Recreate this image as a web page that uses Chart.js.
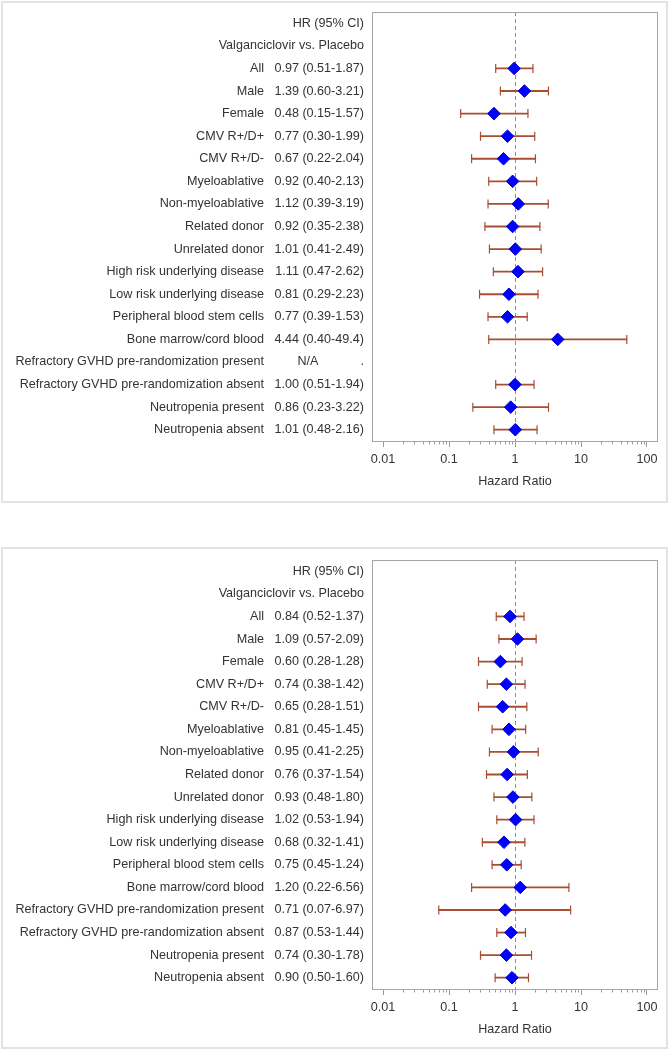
<!DOCTYPE html>
<html><head><meta charset="utf-8">
<script src="https://cdn.jsdelivr.net/npm/chart.js@4"></script>
<style>
html,body{margin:0;padding:0;background:#fff;width:670px;height:1049px;overflow:hidden}
.panel{position:absolute;left:1px;width:667px;height:502px;box-sizing:border-box;border:2px solid #e3e3e3}
canvas{position:absolute;left:0}
</style></head><body>
<div class="panel" style="top:1px"></div>
<div class="panel" style="top:547px"></div>
<canvas id="c1" width="670" height="501" style="top:0"></canvas>
<canvas id="c2" width="670" height="501" style="top:548px"></canvas>
<script>
// ---------- data ----------
const categories = ['', '', 'All', 'Male', 'Female', 'CMV R+/D+', 'CMV R+/D-', 'Myeloablative',
  'Non-myeloablative', 'Related donor', 'Unrelated donor', 'High risk underlying disease',
  'Low risk underlying disease', 'Peripheral blood stem cells', 'Bone marrow/cord blood',
  'Refractory GVHD pre-randomization present', 'Refractory GVHD pre-randomization absent',
  'Neutropenia present', 'Neutropenia absent'];

const hrLabels1 = ['HR (95% CI)', 'Valganciclovir vs. Placebo', '0.97 (0.51-1.87)', '1.39 (0.60-3.21)',
  '0.48 (0.15-1.57)', '0.77 (0.30-1.99)', '0.67 (0.22-2.04)', '0.92 (0.40-2.13)', '1.12 (0.39-3.19)',
  '0.92 (0.35-2.38)', '1.01 (0.41-2.49)', '1.11 (0.47-2.62)', '0.81 (0.29-2.23)', '0.77 (0.39-1.53)',
  '4.44 (0.40-49.4)', 'N/A            .', '1.00 (0.51-1.94)', '0.86 (0.23-3.22)', '1.01 (0.48-2.16)'];
const hr1 = [null, null, 0.97, 1.39, 0.48, 0.77, 0.67, 0.92, 1.12, 0.92, 1.01, 1.11, 0.81, 0.77, 4.44, null, 1.00, 0.86, 1.01];
const lo1 = [null, null, 0.51, 0.60, 0.15, 0.30, 0.22, 0.40, 0.39, 0.35, 0.41, 0.47, 0.29, 0.39, 0.40, null, 0.51, 0.23, 0.48];
const hi1 = [null, null, 1.87, 3.21, 1.57, 1.99, 2.04, 2.13, 3.19, 2.38, 2.49, 2.62, 2.23, 1.53, 49.4, null, 1.94, 3.22, 2.16];

const hrLabels2 = ['HR (95% CI)', 'Valganciclovir vs. Placebo', '0.84 (0.52-1.37)', '1.09 (0.57-2.09)',
  '0.60 (0.28-1.28)', '0.74 (0.38-1.42)', '0.65 (0.28-1.51)', '0.81 (0.45-1.45)', '0.95 (0.41-2.25)',
  '0.76 (0.37-1.54)', '0.93 (0.48-1.80)', '1.02 (0.53-1.94)', '0.68 (0.32-1.41)', '0.75 (0.45-1.24)',
  '1.20 (0.22-6.56)', '0.71 (0.07-6.97)', '0.87 (0.53-1.44)', '0.74 (0.30-1.78)', '0.90 (0.50-1.60)'];
const hr2 = [null, null, 0.84, 1.09, 0.60, 0.74, 0.65, 0.81, 0.95, 0.76, 0.93, 1.02, 0.68, 0.75, 1.20, 0.71, 0.87, 0.74, 0.90];
const lo2 = [null, null, 0.52, 0.57, 0.28, 0.38, 0.28, 0.45, 0.41, 0.37, 0.48, 0.53, 0.32, 0.45, 0.22, 0.07, 0.53, 0.30, 0.50];
const hi2 = [null, null, 1.37, 2.09, 1.28, 1.42, 1.51, 1.45, 2.25, 1.54, 1.80, 1.94, 1.41, 1.24, 6.56, 6.97, 1.44, 1.78, 1.60];

const xTickValues = [0.01, 0.1, 1, 10, 100];
const xTickLabels = ['0.01', '0.1', '1', '10', '100'];
const xTitle = 'Hazard Ratio';
const refValue = 1;

// ---------- styling ----------
Chart.defaults.font.family = "'Liberation Sans', Arial, sans-serif";
Chart.defaults.font.size = 12.6;
Chart.defaults.color = '#333';

const CI_COLOR = '#a84e33';
const DIAMOND = '#0000ff';
const FRAME = '#a6a6a6';

const decor = {
  id: 'decor',
  beforeDatasetsDraw(chart) {
    const {ctx, chartArea: a, scales: {x}} = chart;
    ctx.save();
    ctx.lineWidth = 1;
    // reference line
    const px = Math.round(x.getPixelForValue(refValue)) + 0.5;
    ctx.strokeStyle = '#8f8f8f';
    ctx.setLineDash([4, 3]);
    ctx.beginPath(); ctx.moveTo(px, a.top); ctx.lineTo(px, a.bottom); ctx.stroke();
    ctx.setLineDash([]);
    // minor ticks
    ctx.strokeStyle = '#9a9a9a';
    ctx.beginPath();
    for (let k = 0; k < xTickValues.length - 1; k++) {
      for (let m = 2; m <= 9; m++) {
        const p = Math.round(x.getPixelForValue(xTickValues[k] * m)) + 0.5;
        ctx.moveTo(p, a.bottom); ctx.lineTo(p, a.bottom + 3.5);
      }
    }
    ctx.stroke();
    // frame
    ctx.strokeStyle = FRAME;
    ctx.strokeRect(Math.round(a.left) + 0.5, Math.round(a.top) + 0.5,
      Math.round(a.right) - Math.round(a.left) - 1, Math.round(a.bottom) - Math.round(a.top));
    ctx.restore();
  }
};

function noPad(s) { s.paddingTop = 0; s.paddingBottom = 0; }

function makeChart(id, hrLabels, hr, lo, hi) {
  const pts = [], caps = [];
  hr.forEach((v, i) => { if (v != null) pts.push({x: v, y: categories[i]}); });
  lo.forEach((v, i) => {
    if (v != null) { caps.push({x: v, y: categories[i]}); caps.push({x: hi[i], y: categories[i]}); }
  });
  const bars = lo.map((v, i) => v == null ? null : [v, hi[i]]);

  return new Chart(document.getElementById(id), {
    type: 'bar',
    data: {
      labels: categories,
      datasets: [
        {type: 'scatter', data: pts, pointStyle: 'rectRot', pointRadius: 6.3, pointHoverRadius: 6.3,
         backgroundColor: DIAMOND, borderColor: '#0000c8', borderWidth: 1},
        {type: 'scatter', data: caps, pointStyle: 'line', pointRotation: 90, pointRadius: 4.5,
         pointHoverRadius: 4.5, borderColor: CI_COLOR, borderWidth: 1.2},
        {type: 'bar', data: bars, backgroundColor: CI_COLOR, borderWidth: 0, barThickness: 1.15}
      ]
    },
    options: {
      indexAxis: 'y',
      responsive: false,
      animation: false,
      events: [],
      layout: {padding: {left: 0, right: 12, top: 12, bottom: 11.5}},
      plugins: {legend: {display: false}, tooltip: {enabled: false}},
      scales: {
        x: {
          type: 'logarithmic', min: 0.00681, max: 146.8, position: 'bottom',
          grid: {drawOnChartArea: false, drawTicks: true, tickLength: 6, color: '#9a9a9a'},
          border: {display: false},
          afterBuildTicks(s) { s.ticks = xTickValues.map(v => ({value: v})); },
          ticks: {autoSkip: false, maxRotation: 0, padding: 5, callback: (v, i) => xTickLabels[i]},
          title: {display: true, text: xTitle, padding: {top: 0, bottom: 0}},
          afterFit(s) { s.height = 48.5; }
        },
        y: {
          type: 'category', labels: categories, offset: true, position: 'left', weight: 1,
          grid: {display: false, drawTicks: false}, border: {display: false},
          ticks: {autoSkip: false, padding: 4},
          afterFit(s) { s.width = 268; noPad(s); }
        },
        y2: {
          type: 'category', labels: hrLabels, offset: true, position: 'left', weight: 0,
          grid: {display: false, drawTicks: false}, border: {display: false},
          ticks: {autoSkip: false, padding: 8},
          afterFit(s) { s.width = 104; noPad(s); s._computeLabelArea = () => null; }
        }
      }
    },
    plugins: [decor]
  });
}

makeChart('c1', hrLabels1, hr1, lo1, hi1);
makeChart('c2', hrLabels2, hr2, lo2, hi2);
</script>
</body></html>
